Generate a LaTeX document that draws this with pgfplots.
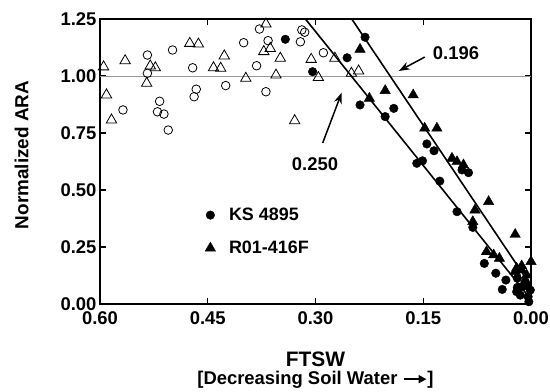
\documentclass[border=0pt]{standalone}
\usepackage{fontspec}
\setmainfont{Liberation Sans}
\usepackage{pgfplots}
\pgfplotsset{compat=1.18}
\usetikzlibrary{arrows.meta}
\pgfplotsset{wideleg/.style={legend image code/.code={\draw[##1] plot coordinates {(0.3cm,0cm)}; \path (0cm,0cm) (0.88cm,0cm);}}}
\begin{document}
\begin{tikzpicture}
\begin{axis}[
  name=ax,
  scale only axis, width=431bp, height=285bp,
  xmin=0, xmax=0.6, x dir=reverse, ymin=0, ymax=1.25,
  xtick={0,0.15,0.3,0.45,0.6}, ytick={0,0.25,0.5,0.75,1,1.25},
  tick align=inside, major tick length=6bp,
  tick style={line width=1.4bp, black},
  axis line style={line width=1.7bp},
  /pgf/number format/assume math mode=true,
  /pgf/number format/.cd, fixed, fixed zerofill, precision=2, /pgfplots/.cd,
  ticklabel style={font=\bfseries\fontsize{18.5}{20}\selectfont},
  xticklabel style={yshift=-4bp},
  xlabel={FTSW},
  xlabel style={at={(rel axis cs:0.5,-0.219)}, anchor=base, inner sep=0pt,
    font=\bfseries\fontsize{21}{24}\selectfont},
  ylabel={Normalized ARA},
  ylabel style={at={(rel axis cs:-0.182,0.523)}, anchor=center, inner sep=0pt,
    font=\bfseries\fontsize{19}{21}\selectfont},
  legend style={at={(rel axis cs:0.2285,0.254)}, anchor=west, draw=none, fill=none,
    font=\bfseries\fontsize{18}{20}\selectfont, row sep=15bp},
  legend cell align=left,
]
\addplot[gray!80, line width=0.8bp, forget plot] coordinates {(0,1) (0.6,1)};
\addplot[black, line width=1.6bp, forget plot] coordinates {(0.314,1.25) (0.0,0.02)};
\addplot[black, line width=1.6bp, forget plot] coordinates {(0.2495,1.25) (0.0,0.08)};

% KS 4895 filled circles
\addplot[only marks, mark=*, mark size=4.3bp, mark options={fill=black, draw=black}, wideleg] coordinates {
(0.342,1.161) (0.304,1.019) (0.256,1.080) (0.231,1.170) (0.238,0.873)
(0.191,0.858) (0.203,0.822) (0.145,0.702) (0.135,0.672) (0.159,0.617)
(0.151,0.628) (0.096,0.588) (0.087,0.576) (0.127,0.539) (0.103,0.405)
(0.081,0.336) (0.065,0.178) (0.049,0.135) (0.035,0.105) (0.040,0.064)
(0.020,0.054) (0.015,0.039) (0.004,0.032) (0.008,0.098) (0.019,0.113)
(0.013,0.076) (0.001,0.061) (0.019,0.073) (0.003,0.010)
};
\addlegendentry{KS 4895}
% R01-416F filled triangles
\addplot[only marks, mark=triangle*, mark size=6bp, mark options={fill=black, draw=black}, wideleg] coordinates {
(0.238,1.117) (0.225,0.902) (0.203,0.936) (0.164,0.917) (0.148,0.771)
(0.131,0.771) (0.110,0.639) (0.103,0.624) (0.094,0.610) (0.059,0.449)
(0.078,0.412) (0.081,0.361) (0.062,0.229) (0.052,0.215) (0.044,0.200)
(0.022,0.305) (0.020,0.157) (0.013,0.167) (0.000,0.186) (0.006,0.127)
(0.004,0.076) (0.022,0.142) (0.013,0.149)
};
\addlegendentry{R01-416F}
% open circles
\addplot[only marks, mark=o, mark size=4.3bp, mark options={fill=white, draw=black, line width=0.8bp}, forget plot] coordinates {
(0.568,0.851) (0.534,1.092) (0.534,1.012) (0.517,0.889) (0.520,0.843)
(0.511,0.833) (0.505,0.763) (0.499,1.114) (0.471,1.036) (0.466,0.942)
(0.469,0.909) (0.425,0.958) (0.400,1.146) (0.382,1.045) (0.378,1.206)
(0.369,0.931) (0.366,1.155) (0.319,1.202) (0.315,1.192) (0.321,1.150)
(0.289,1.102)
};
% open triangles
\addplot[only marks, mark=triangle, mark size=6bp, mark options={fill=white, draw=black, line width=0.8bp}, forget plot] coordinates {
(0.595,1.040) (0.591,0.917) (0.584,0.807) (0.565,1.067) (0.535,0.968)
(0.530,1.044) (0.523,1.036) (0.475,1.143) (0.463,1.140) (0.442,1.036)
(0.432,1.034) (0.427,1.088) (0.397,0.990) (0.372,1.107) (0.369,1.228)
(0.363,1.121) (0.355,1.004) (0.349,1.078) (0.329,0.804) (0.306,1.073)
(0.296,0.993) (0.273,1.078) (0.250,1.012) (0.240,1.022)
};
\draw[-{Stealth[length=11bp,width=8bp]}, line width=1.5bp] (axis cs:0.148,1.083) -- (axis cs:0.184,1.022);
\node[font=\bfseries\fontsize{18.5}{20}\selectfont] at (axis cs:0.1044,1.101) {0.196};
\draw[-{Stealth[length=11bp,width=8bp]}, line width=1.5bp] (axis cs:0.290,0.706) -- (axis cs:0.2635,0.927);
\node[font=\bfseries\fontsize{18.5}{20}\selectfont] at (axis cs:0.3007,0.612) {0.250};
\end{axis}
\node[anchor=base, inner sep=0pt, font=\bfseries\fontsize{18.5}{20}\selectfont] at ([yshift=-80.5bp]ax.south)
  {[Decreasing Soil Water \tikz[baseline=-0.55ex]\draw[line width=1.9bp,-{Triangle[length=8bp,width=8bp]}] (0,0)--(23bp,0);]};
\pgfresetboundingbox
\path ([shift={(-100bp,-88bp)}]ax.south west) rectangle ([shift={(19bp,19bp)}]ax.north east);
\end{tikzpicture}
\end{document}
